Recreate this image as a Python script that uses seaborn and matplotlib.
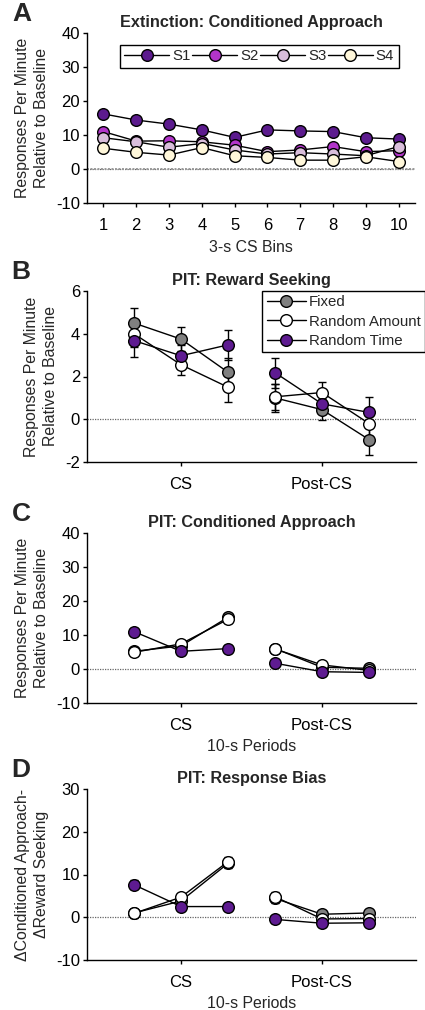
import numpy as np
import pandas as pd
import matplotlib
matplotlib.use("Agg")
import matplotlib.pyplot as plt
from matplotlib.lines import Line2D
import seaborn as sns

# ---------------- data ----------------
bins = [1, 2, 3, 4, 5, 6, 7, 8, 9, 10]
ext_S1 = [16.2, 14.4, 13.2, 11.5, 9.3, 11.5, 11.2, 11.0, 9.2, 8.8]
ext_S2 = [11.0, 8.2, 8.3, 8.0, 7.0, 5.1, 5.6, 6.6, 5.1, 5.4]
ext_S3 = [9.2, 8.0, 6.4, 7.5, 5.6, 4.4, 4.8, 4.4, 3.9, 6.6]
ext_S4 = [6.1, 4.9, 4.1, 6.3, 3.9, 3.4, 2.6, 2.6, 3.6, 2.2]
ext_names = ["S1", "S2", "S3", "S4"]

period_x = [1, 2, 3, 4, 5, 6]
period_seg = [0, 0, 0, 1, 1, 1]
period_ticks = [2, 5]
period_labels = ["CS", "Post-CS"]
groups = ["Fixed", "Random Amount", "Random Time"]

rs_fixed = [4.5, 3.75, 2.2, 1.0, 0.45, -0.95]
rs_ramt = [4.0, 2.55, 1.5, 1.05, 1.25, -0.2]
rs_rtime = [3.68, 2.97, 3.48, 2.18, 0.72, 0.32]
rs_fixed_sem = [0.7, 0.55, 0.65, 0.65, 0.5, 0.7]
rs_ramt_sem = [0.6, 0.5, 0.7, 0.6, 0.5, 0.6]
rs_rtime_sem = [0.75, 0.5, 0.7, 0.7, 0.4, 0.7]

ca_fixed = [5.2, 6.8, 15.2, 6.0, 0.5, 0.2]
ca_ramt = [4.9, 7.4, 14.6, 5.9, 1.2, -0.4]
ca_rtime = [11.0, 5.2, 6.0, 1.7, -0.8, -1.0]
ca_fixed_sem = [1.0, 1.0, 1.0, 1.0, 0.8, 0.8]
ca_ramt_sem = [1.0, 1.0, 1.0, 1.0, 0.8, 0.8]
ca_rtime_sem = [1.0, 1.0, 1.0, 1.0, 0.8, 0.8]

rb_fixed = [1.0, 3.8, 12.6, 4.4, 0.7, 1.0]
rb_ramt = [0.9, 4.7, 13.0, 4.8, -0.4, -0.3]
rb_rtime = [7.6, 2.5, 2.5, -0.5, -1.4, -1.3]
rb_fixed_sem = [0.8, 0.8, 1.0, 1.0, 0.8, 0.8]
rb_ramt_sem = [1.1, 0.8, 1.2, 1.0, 0.5, 0.5]
rb_rtime_sem = [1.0, 0.8, 0.8, 0.8, 0.6, 0.6]

# ---------------- style ----------------
ext_colors = ["#5C1B8E", "#B234CA", "#D9BEDB", "#FFF7DA"]
grp_colors = ["#808080", "#FFFFFF", "#5E1B91"]

sns.set_style("ticks")
plt.rcParams["font.family"] = ["Liberation Sans", "DejaVu Sans"]
plt.rcParams["font.size"] = 12
plt.rcParams["axes.linewidth"] = 1.0

W, H = 425, 1010
fig = plt.figure(figsize=(W / 100, H / 100), dpi=100)

FS = 12.0      # tick font size
LFS = 11.4     # axis label font size
GFS = 10.8     # legend font size
TFS = 11.7     # title font size


def px_axes(left, right, top, bottom):
    return fig.add_axes([left / W, 1 - bottom / H, (right - left) / W, (bottom - top) / H])


MS = 8.4


def style_axes(ax, title, letter, ylab, ymin, ymax, ystep):
    sns.despine(ax=ax)
    ax.set_ylim(ymin, ymax)
    ax.set_yticks(np.arange(ymin, ymax + 0.01, ystep))
    ax.set_yticklabels([f"{int(v)}" for v in np.arange(ymin, ymax + 0.01, ystep)])
    ax.tick_params(axis="both", direction="out", length=3, width=1, labelsize=FS,
                   colors="black", pad=2)
    ax.tick_params(axis="x", pad=8)
    ax.set_title(title, fontsize=TFS, fontweight="bold", pad=4)
    ax.set_ylabel(ylab, fontsize=LFS, labelpad=5, linespacing=1.35)
    ax.axhline(0, color="#666666", lw=0.9, ls=(0, (1.0, 1.0)), zorder=0.5)
    ax.text(-0.2, 1.11, letter, transform=ax.transAxes, fontsize=19,
            fontweight="bold", va="center", ha="center")
    for sp in ax.spines.values():
        sp.set_color("black")


def draw_series(ax, x, y, seg, face, sem=None):
    df = pd.DataFrame({"x": x, "y": y, "seg": seg})
    if sem is not None:
        ax.errorbar(x, y, yerr=sem, fmt="none", ecolor="black", elinewidth=1,
                    capsize=3, capthick=1, zorder=1.5)
    sns.lineplot(data=df, x="x", y="y", units="seg", estimator=None, sort=False,
                 color="black", linewidth=1, marker="o", markersize=MS,
                 markerfacecolor=face, markeredgecolor="black", markeredgewidth=1,
                 legend=False, ax=ax)


ylab_main = "Responses Per Minute\nRelative to Baseline"

# ---------------- Panel A ----------------
axA = px_axes(87, 415, 33, 203)
for vals, col in zip([ext_S1, ext_S2, ext_S3, ext_S4], ext_colors):
    draw_series(axA, bins, vals, [0] * len(bins), col)
style_axes(axA, "Extinction: Conditioned Approach", "A", ylab_main, -10, 40, 10)
axA.axhline(0, color="#999999", lw=1.4, ls=(0, (1.0, 0.8)), zorder=0.5)
axA.set_xlim(0.5, 10.5)
axA.set_xticks(bins)
axA.set_xlabel("3-s CS Bins", fontsize=LFS, labelpad=5)
hA = [Line2D([], [], color="black", lw=1, marker="o", ms=MS, mfc=c, mec="black", mew=1)
      for c in ext_colors]
legA = axA.legend(hA, ext_names, loc="upper left", bbox_to_anchor=(0.1, 0.93),
                  ncol=4, frameon=True, fancybox=False, edgecolor="black",
                  framealpha=1, fontsize=GFS, handlelength=3.0, handletextpad=0.2,
                  columnspacing=0.1, borderpad=0.3, borderaxespad=0)
legA.get_frame().set_linewidth(1.0)


def period_panel(top, bottom, title, letter, ylab, ymin, ymax, ystep,
                 series, sems, xlabel=None, legend=False):
    ax = px_axes(87, 416, top, bottom)
    for vals, sem, col in zip(series, sems, grp_colors):
        draw_series(ax, period_x, vals, period_seg, col, sem)
    style_axes(ax, title, letter, ylab, ymin, ymax, ystep)
    ax.set_xlim(0, 7)
    ax.set_xticks(period_ticks)
    ax.set_xticklabels(period_labels)
    if xlabel:
        ax.set_xlabel(xlabel, fontsize=LFS, labelpad=4)
    else:
        ax.set_xlabel("")
    if legend:
        h = [Line2D([], [], color="black", lw=1, marker="o", ms=MS, mfc=c, mec="black", mew=1)
             for c in grp_colors]
        lg = ax.legend(h, groups, loc="upper left", bbox_to_anchor=(0.532, 1.0),
                       frameon=True, fancybox=False, edgecolor="black", framealpha=1,
                       fontsize=GFS, handlelength=2.6, handletextpad=0.2,
                       labelspacing=0.35, borderpad=0.3, borderaxespad=0)
        lg.get_frame().set_linewidth(1.0)
    return ax


period_panel(291, 462, "PIT: Reward Seeking", "B", ylab_main, -2, 6, 2,
             [rs_fixed, rs_ramt, rs_rtime], [rs_fixed_sem, rs_ramt_sem, rs_rtime_sem],
             legend=True)
period_panel(533, 703, "PIT: Conditioned Approach", "C", ylab_main, -10, 40, 10,
             [ca_fixed, ca_ramt, ca_rtime], [ca_fixed_sem, ca_ramt_sem, ca_rtime_sem],
             xlabel="10-s Periods")
period_panel(789, 960, "PIT: Response Bias", "D",
             "\u0394Conditioned Approach-\n\u0394Reward Seeking", -10, 30, 10,
             [rb_fixed, rb_ramt, rb_rtime], [rb_fixed_sem, rb_ramt_sem, rb_rtime_sem],
             xlabel="10-s Periods")

fig.savefig("out.png", dpi=100)
